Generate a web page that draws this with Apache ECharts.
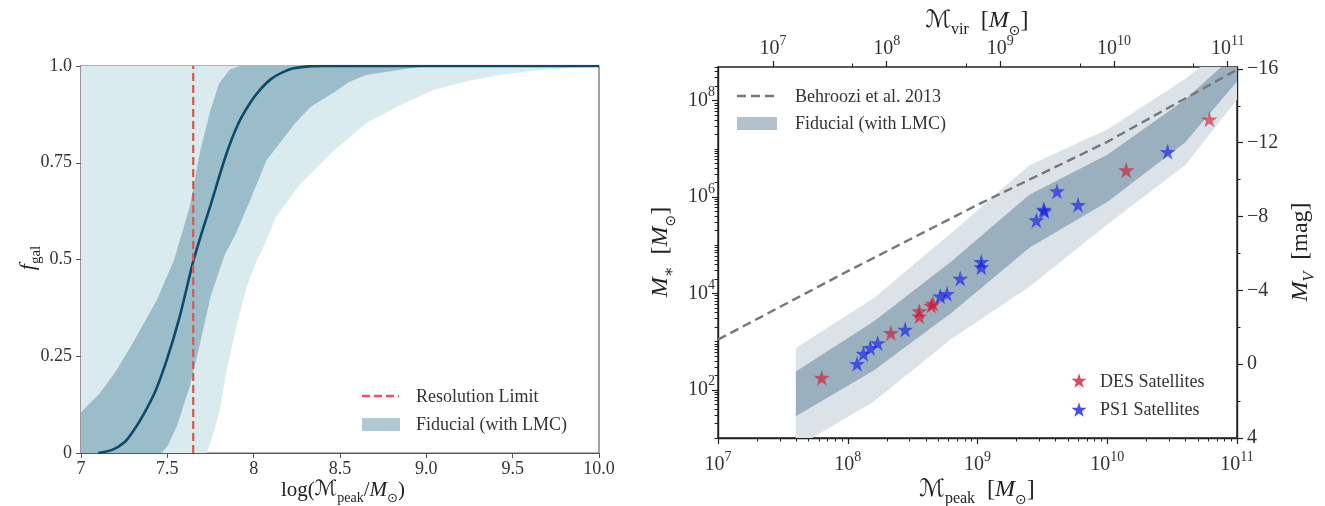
<!DOCTYPE html>
<html><head><meta charset="utf-8">
<script src="https://cdn.jsdelivr.net/npm/echarts@6/dist/echarts.min.js"></script>
<style>html,body{margin:0;padding:0;background:#fff}#c{width:1325px;height:506px}</style>
</head><body><div id="c"></div>
<script>
// ================= LEFT PANEL DATA =================
const LEFT_X_TICKS = [7, 7.5, 8, 8.5, 9, 9.5, 10];
const LEFT_X_TICK_LABELS = ['7', '7.5', '8', '8.5', '9.0', '9.5', '10.0'];
const LEFT_Y_TICKS = [0, 0.25, 0.5, 0.75, 1];
const LEFT_Y_TICK_LABELS = ['0', '0.25', '0.5', '0.75', '1.0'];

const MEDIAN_LOGM = [7.10, 7.18, 7.25, 7.30, 7.36, 7.43, 7.50, 7.57, 7.65, 7.70, 7.75, 7.84, 7.91, 7.98, 8.04, 8.10, 8.17, 8.23, 8.32, 8.40, 10.0];
const MEDIAN_FGAL = [0, 0.008, 0.027, 0.055, 0.098, 0.159, 0.245, 0.35, 0.495, 0.57, 0.64, 0.77, 0.85, 0.905, 0.94, 0.966, 0.984, 0.994, 0.999, 1, 1];

const DARK_UP_LOGM = [7.0, 7.11, 7.20, 7.30, 7.44, 7.54, 7.63, 7.69, 7.75, 7.80, 7.86, 7.92, 10.0];
const DARK_UP_FGAL = [0.105, 0.155, 0.21, 0.284, 0.396, 0.5, 0.637, 0.78, 0.886, 0.955, 0.99, 1, 1];
const DARK_LO_LOGM = [7.0, 7.465, 7.50, 7.555, 7.63, 7.69, 7.75, 7.83, 7.90, 7.98, 8.075, 8.24, 8.33, 8.46, 8.55, 8.65, 8.85, 9.0, 10.0];
const DARK_LO_FGAL = [0, 0, 0.017, 0.069, 0.172, 0.284, 0.404, 0.51, 0.57, 0.654, 0.757, 0.852, 0.895, 0.93, 0.958, 0.977, 0.99, 1, 1];

const LIGHT_UP_LOGM = [7.0, 10.0];
const LIGHT_UP_FGAL = [1, 1];
const LIGHT_LO_LOGM = [7.0, 7.728, 7.767, 7.805, 7.844, 7.90, 7.96, 8.02, 8.06, 8.13, 8.27, 8.46, 8.65, 8.85, 9.04, 9.23, 9.42, 9.62, 9.81, 10.0];
const LIGHT_LO_FGAL = [0, 0, 0.052, 0.112, 0.215, 0.327, 0.43, 0.5, 0.535, 0.611, 0.695, 0.78, 0.852, 0.899, 0.938, 0.96, 0.977, 0.988, 0.994, 0.998];

const RES_LIMIT_X = [7.65, 7.65];
const RES_LIMIT_Y = [0, 1];

// ================= RIGHT PANEL DATA =================
const MPEAK_TICKS = [1e7, 1e8, 1e9, 1e10, 1e11];
const MPEAK_TICK_EXP = ['7', '8', '9', '10', '11'];
const MVIR_TICKS = [1e7, 1e8, 1e9, 1e10, 1e11];
const MVIR_TICK_EXP = ['7', '8', '9', '10', '11'];
const MVIR_MINOR = [5e7, 5e8, 5e9, 5e10];
const MSTAR_TICKS = [1e2, 1e4, 1e6, 1e8];
const MSTAR_TICK_EXP = ['2', '4', '6', '8'];
const MV_TICKS = [-16, -12, -8, -4, 0, 4];
const MV_MINOR = [-14, -10, -6, -2, 2];

const BAND_MPEAK = [3.98e7, 1.585e8, 6.31e8, 2.51e9, 1.0e10, 3.98e10, 1.0e11];
const OUTER_UP = [741, 7.94e3, 1.82e5, 4.57e6, 2.51e7, 2.82e8, 2.0e9];
const INNER_UP = [240, 2.63e3, 4.68e4, 1.12e6, 7.59e6, 1.05e8, 1.0e9];
const INNER_LO = [28.2, 251, 3.98e3, 8.91e4, 7.94e5, 1.35e7, 2.51e8];
const OUTER_LO = [6.3, 57.5, 1.15e3, 1.38e4, 2.69e5, 4.57e6, 1.05e8];

const BEHROOZI_MPEAK = [1e7, 1e8, 1e9, 1e10, 1e11];
const BEHROOZI_MSTAR = [1.1e3, 2.9e4, 6.9e5, 1.4e7, 4.4e8];

const DES_MPEAK = [6.3e7, 2.15e8, 3.56e8, 3.56e8, 4.54e8, 4.4e8, 1.4e10, 6.12e10];
const DES_MSTAR = [178, 1510, 4270, 3350, 6170, 5600, 3.6e6, 4.1e7];
const PS1_MPEAK = [1.18e8, 1.32e8, 1.49e8, 1.70e8, 2.77e8, 5.16e8, 5.82e8, 7.36e8, 1.07e9, 1.07e9, 2.84e9, 3.24e9, 3.28e9, 4.1e9, 5.96e9, 2.92e10];
const PS1_MSTAR = [347, 562, 741, 933, 1780, 8700, 9800, 2.04e4, 4.5e4, 3.5e4, 3.3e5, 5.5e5, 5.1e5, 1.32e6, 6.9e5, 8.7e6];

// ================= STYLE =================
const SERIF = "'Liberation Serif','DejaVu Serif',serif";
const TXT = '#333';
const STAR_UNIT = [[50,2],[61.2,36.6],[97.6,36.6],[68.2,58],[79.4,92.6],[50,71.2],[20.6,92.6],[31.8,58],[2.4,36.6],[38.8,36.6]];
const STAR = 'path://M' + STAR_UNIT.map(p => p.join(',')).join(' L') + ' Z';
const DES_COLOR = 'rgba(215,10,40,0.75)';
const PS1_COLOR = 'rgba(10,20,235,0.75)';

function pairs(xs, ys) { return xs.map((x, i) => [x, ys[i]]); }
function starPoly(cx, cy, size) { return STAR_UNIT.map(p => [cx + (p[0] - 50) / 100 * size, cy + (p[1] - 50) / 100 * size]); }

// minor tick positions for log axes (2..9 x 10^n)
function logMinor(e0, e1) {
  const out = [];
  for (let e = e0; e < e1; e++) for (let m = 2; m <= 9; m++) out.push(m * Math.pow(10, e));
  return out;
}
const MPEAK_MINOR = logMinor(7, 11);
const MSTAR_MINOR = logMinor(1, 9).concat([1e1, 1e3, 1e5, 1e7]).filter(v => v <= 5e8);

function bandRender(upPts, loPts, fill) {
  return function (params, api) {
    if (params.dataIndex !== 0) return null;
    const pts = [];
    upPts.forEach(p => pts.push(api.coord(p)));
    for (let i = loPts.length - 1; i >= 0; i--) pts.push(api.coord(loPts[i]));
    return { type: 'polygon', shape: { points: pts }, style: { fill: fill }, silent: true };
  };
}

const supFmt = (exps, ticks) => function (v) {
  let idx = ticks.findIndex(t => Math.abs(Math.log10(t) - Math.log10(v)) < 1e-6);
  if (idx < 0) return '';
  return '{b|10}{p|' + exps[idx] + '}';
};
const supRich = {
  b: { fontFamily: SERIF, fontSize: 20, lineHeight: 30, color: TXT, verticalAlign: 'middle' },
  p: { fontFamily: SERIF, fontSize: 14, lineHeight: 14, color: TXT, verticalAlign: 'top' }
};

const chart = echarts.init(document.getElementById('c'), null, { renderer: 'canvas' });

const titleRich = (fs) => ({
  r: { fontFamily: SERIF, fontSize: fs, lineHeight: fs + 10, verticalAlign: 'middle', fill: '#222' },
  i: { fontFamily: SERIF, fontSize: fs, fontStyle: 'italic', lineHeight: fs + 10, verticalAlign: 'middle', fill: '#222' },
  s: { fontFamily: "'DejaVu Serif','DejaVu Sans',serif", fontSize: fs, lineHeight: fs + 10, verticalAlign: 'middle', fill: '#222' },
  sub: { fontFamily: SERIF, fontSize: Math.round(fs * 0.68), lineHeight: Math.round(fs * 0.68) + 4, verticalAlign: 'bottom', fill: '#222' },
  subi: { fontFamily: SERIF, fontSize: Math.round(fs * 0.68), fontStyle: 'italic', lineHeight: Math.round(fs * 0.68) + 4, verticalAlign: 'bottom', fill: '#222' },
  subs: { fontFamily: "'DejaVu Sans',serif", fontSize: Math.round(fs * 0.6), lineHeight: Math.round(fs * 0.6) + 4, verticalAlign: 'bottom', fill: '#222' }
});

const noZeroLine = (o) => Object.assign({ show: true, onZero: false }, o);

const option = {
  animation: false,
  backgroundColor: '#fff',
  grid: [
    { left: 81, top: 66, width: 518, height: 387, show: true, borderColor: '#666', borderWidth: 1.2, backgroundColor: 'transparent', containLabel: false, outerBoundsMode: 'none' },
    { left: 718, top: 67, width: 519, height: 371, show: true, borderColor: '#222', borderWidth: 1.4, backgroundColor: 'transparent', containLabel: false, outerBoundsMode: 'none' }
  ],
  xAxis: [
    { gridIndex: 0, type: 'value', min: 7, max: 10, interval: 0.5,
      axisLine: noZeroLine({ lineStyle: { color: '#555', width: 1.2 } }),
      axisTick: { show: true, inside: false, length: 5, lineStyle: { color: '#555' }, customValues: LEFT_X_TICKS },
      axisLabel: { show: true, margin: 7, fontFamily: SERIF, fontSize: 18, color: TXT, customValues: LEFT_X_TICKS,
        formatter: v => { const i = LEFT_X_TICKS.indexOf(v); return i >= 0 ? LEFT_X_TICK_LABELS[i] : ''; } },
      splitLine: { show: false } },
    { gridIndex: 1, type: 'log', logBase: 10, min: 1e7, max: 1e11, position: 'bottom',
      axisLine: noZeroLine({ lineStyle: { color: '#222', width: 1.4 } }),
      axisTick: { show: true, inside: false, length: 6, lineStyle: { color: '#222', width: 1.2 }, customValues: MPEAK_TICKS },
      axisLabel: { show: true, margin: 12, customValues: MPEAK_TICKS, formatter: supFmt(MPEAK_TICK_EXP, MPEAK_TICKS), rich: supRich },
      splitLine: { show: false } },
    { gridIndex: 1, type: 'log', logBase: 10, min: 1e7, max: 1e11, position: 'bottom',
      axisLine: { show: false, onZero: false },
      axisTick: { show: true, inside: false, length: 3.5, lineStyle: { color: '#222', width: 1 }, customValues: MPEAK_MINOR },
      axisLabel: { show: false }, splitLine: { show: false } },
    { gridIndex: 1, type: 'log', logBase: 10, min: 3.285e6, max: 1.208e11, position: 'top',
      axisLine: { show: false, onZero: false },
      axisTick: { show: true, inside: false, length: 6, lineStyle: { color: '#222', width: 1.2 }, customValues: MVIR_TICKS },
      axisLabel: { show: true, margin: 3, customValues: MVIR_TICKS, formatter: supFmt(MVIR_TICK_EXP, MVIR_TICKS), rich: supRich },
      splitLine: { show: false } },
    { gridIndex: 1, type: 'log', logBase: 10, min: 3.285e6, max: 1.208e11, position: 'top',
      axisLine: { show: false, onZero: false },
      axisTick: { show: true, inside: false, length: 3.5, lineStyle: { color: '#222', width: 1 }, customValues: MVIR_MINOR },
      axisLabel: { show: false }, splitLine: { show: false } }
  ],
  yAxis: [
    { gridIndex: 0, type: 'value', min: 0, max: 1, interval: 0.25,
      axisLine: noZeroLine({ lineStyle: { color: '#555', width: 1.2 } }),
      axisTick: { show: true, inside: false, length: 5, lineStyle: { color: '#555' }, customValues: LEFT_Y_TICKS },
      axisLabel: { show: true, margin: 9, fontFamily: SERIF, fontSize: 18, color: TXT, customValues: LEFT_Y_TICKS,
        formatter: v => { const i = LEFT_Y_TICKS.indexOf(v); return i >= 0 ? LEFT_Y_TICK_LABELS[i] : ''; } },
      splitLine: { show: false } },
    { gridIndex: 1, type: 'log', logBase: 10, min: 10, max: 5e8, position: 'left',
      axisLine: noZeroLine({ lineStyle: { color: '#222', width: 1.4 } }),
      axisTick: { show: true, inside: false, length: 6, lineStyle: { color: '#222', width: 1.2 }, customValues: MSTAR_TICKS },
      axisLabel: { show: true, margin: 3, customValues: MSTAR_TICKS, formatter: supFmt(MSTAR_TICK_EXP, MSTAR_TICKS), rich: supRich },
      splitLine: { show: false } },
    { gridIndex: 1, type: 'log', logBase: 10, min: 10, max: 5e8, position: 'left',
      axisLine: { show: false, onZero: false },
      axisTick: { show: true, inside: false, length: 3.5, lineStyle: { color: '#222', width: 1 }, customValues: MSTAR_MINOR },
      axisLabel: { show: false }, splitLine: { show: false } },
    { gridIndex: 1, type: 'value', min: -16.1, max: 4, inverse: true, position: 'right',
      axisLine: noZeroLine({ lineStyle: { color: '#222', width: 1.4 } }),
      axisTick: { show: true, inside: false, length: 6, lineStyle: { color: '#222', width: 1.2 }, customValues: MV_TICKS },
      axisLabel: { show: true, margin: 10, fontFamily: SERIF, fontSize: 20, color: TXT, customValues: MV_TICKS,
        formatter: v => (v < 0 ? '\u2212' + Math.abs(v) : String(v)) },
      splitLine: { show: false } },
    { gridIndex: 1, type: 'value', min: -16.1, max: 4, inverse: true, position: 'right',
      axisLine: { show: false, onZero: false },
      axisTick: { show: true, inside: false, length: 3.5, lineStyle: { color: '#222', width: 1 }, customValues: MV_MINOR },
      axisLabel: { show: false }, splitLine: { show: false } }
  ],
  series: [
    { type: 'custom', name: 'light', xAxisIndex: 0, yAxisIndex: 0, clip: true, silent: true,
      data: [[LIGHT_UP_LOGM[0], LIGHT_UP_FGAL[0]]],
      renderItem: bandRender(pairs(LIGHT_UP_LOGM, LIGHT_UP_FGAL), pairs(LIGHT_LO_LOGM, LIGHT_LO_FGAL), '#d9ebef') },
    { type: 'custom', name: 'dark', xAxisIndex: 0, yAxisIndex: 0, clip: true, silent: true,
      data: [[DARK_UP_LOGM[0], DARK_UP_FGAL[0]]],
      renderItem: bandRender(pairs(DARK_UP_LOGM, DARK_UP_FGAL), pairs(DARK_LO_LOGM, DARK_LO_FGAL), '#9bbdc9') },
    { type: 'line', name: 'median', xAxisIndex: 0, yAxisIndex: 0, showSymbol: false, symbol: 'none',
      data: pairs(MEDIAN_LOGM, MEDIAN_FGAL), lineStyle: { color: '#0b4a6c', width: 2.6 }, smooth: 0.3 },
    { type: 'line', name: 'Resolution Limit', xAxisIndex: 0, yAxisIndex: 0, showSymbol: false, symbol: 'none',
      data: pairs(RES_LIMIT_X, RES_LIMIT_Y), lineStyle: { color: '#d9574b', width: 2.2, type: [8, 4] } },
    { type: 'custom', name: 'outer', xAxisIndex: 1, yAxisIndex: 1, clip: true, silent: true,
      data: [[BAND_MPEAK[0], OUTER_UP[0]]],
      renderItem: bandRender(pairs(BAND_MPEAK, OUTER_UP), pairs(BAND_MPEAK, OUTER_LO), '#dbe2e8') },
    { type: 'custom', name: 'inner', xAxisIndex: 1, yAxisIndex: 1, clip: true, silent: true,
      data: [[BAND_MPEAK[0], INNER_UP[0]]],
      renderItem: bandRender(pairs(BAND_MPEAK, INNER_UP), pairs(BAND_MPEAK, INNER_LO), '#9ab0bf') },
    { type: 'line', name: 'Behroozi et al. 2013', xAxisIndex: 1, yAxisIndex: 1, showSymbol: false, symbol: 'none',
      data: pairs(BEHROOZI_MPEAK, BEHROOZI_MSTAR), lineStyle: { color: '#777', width: 2.4, type: [9, 5] } },
    { type: 'scatter', name: 'DES Satellites', xAxisIndex: 1, yAxisIndex: 1, symbol: STAR, symbolSize: 16,
      data: pairs(DES_MPEAK, DES_MSTAR), itemStyle: { color: DES_COLOR } },
    { type: 'scatter', name: 'PS1 Satellites', xAxisIndex: 1, yAxisIndex: 1, symbol: STAR, symbolSize: 16,
      data: pairs(PS1_MPEAK, PS1_MSTAR), itemStyle: { color: PS1_COLOR } }
  ],
  graphic: [
    { type: 'line', shape: { x1: 362, y1: 396, x2: 399, y2: 396 }, style: { stroke: '#ef5a4a', lineWidth: 2.4, lineDash: [8, 4] } },
    { type: 'rect', shape: { x: 362, y: 418, width: 38, height: 13 }, style: { fill: '#b0c8d2' } },
    { type: 'text', x: 416, y: 397, style: { text: 'Resolution Limit', font: '18px ' + SERIF, fill: TXT, verticalAlign: 'middle' } },
    { type: 'text', x: 416, y: 425, style: { text: 'Fiducial (with LMC)', font: '18px ' + SERIF, fill: TXT, verticalAlign: 'middle' } },
    { type: 'line', shape: { x1: 737, y1: 96, x2: 778, y2: 96 }, style: { stroke: '#777', lineWidth: 2.4, lineDash: [9, 5] } },
    { type: 'rect', shape: { x: 737, y: 117, width: 40, height: 13 }, style: { fill: '#b1c2ce' } },
    { type: 'text', x: 795, y: 97, style: { text: 'Behroozi et al. 2013', font: '18px ' + SERIF, fill: TXT, verticalAlign: 'middle' } },
    { type: 'text', x: 795, y: 124, style: { text: 'Fiducial (with LMC)', font: '18px ' + SERIF, fill: TXT, verticalAlign: 'middle' } },
    { type: 'polygon', shape: { points: starPoly(1079, 381, 16) }, style: { fill: DES_COLOR } },
    { type: 'polygon', shape: { points: starPoly(1079, 410, 16) }, style: { fill: PS1_COLOR } },
    { type: 'text', x: 1100, y: 382, style: { text: 'DES Satellites', font: '18px ' + SERIF, fill: TXT, verticalAlign: 'middle' } },
    { type: 'text', x: 1100, y: 410, style: { text: 'PS1 Satellites', font: '18px ' + SERIF, fill: TXT, verticalAlign: 'middle' } },
    { type: 'text', x: 28, y: 258, rotation: Math.PI / 2,
      style: { text: '{i|f}{sub|gal}', rich: titleRich(22), align: 'center', verticalAlign: 'middle' } },
    { type: 'text', x: 343, y: 490,
      style: { text: '{r|log(}{s|\u2133}{sub|peak}{r|/}{i|M}{subs|\u2299}{r|)}', rich: titleRich(21), align: 'center', verticalAlign: 'middle' } },
    { type: 'text', x: 977, y: 21,
      style: { text: '{s|\u2133}{sub|vir}{r|  [}{i|M}{subs|\u2299}{r|]}', rich: titleRich(24), align: 'center', verticalAlign: 'middle' } },
    { type: 'text', x: 977, y: 490,
      style: { text: '{s|\u2133}{sub|peak}{r|  [}{i|M}{subs|\u2299}{r|]}', rich: titleRich(24), align: 'center', verticalAlign: 'middle' } },
    { type: 'text', x: 661, y: 252, rotation: Math.PI / 2,
      style: { text: '{i|M}{sub|\u2217}{r|  [}{i|M}{subs|\u2299}{r|]}', rich: titleRich(24), align: 'center', verticalAlign: 'middle' } },
    { type: 'text', x: 1301, y: 252, rotation: Math.PI / 2,
      style: { text: '{i|M}{subi|V}{r|  [mag]}', rich: titleRich(24), align: 'center', verticalAlign: 'middle' } }
  ]
};
chart.setOption(option);
</script>
</body></html>
